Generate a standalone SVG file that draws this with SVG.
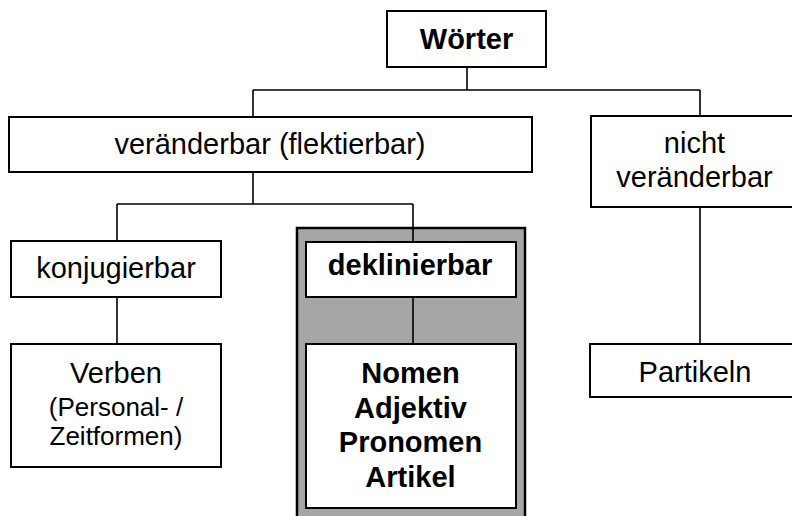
<svg xmlns="http://www.w3.org/2000/svg" width="792" height="516" viewBox="0 0 792 516">
<style>
.box{fill:#fff;stroke:#000;stroke-width:2}
.ln{fill:none;stroke:#000;stroke-width:1.6}
text{font-family:"Liberation Sans",Arial,sans-serif;font-size:29px;text-anchor:middle;fill:#000}
.b{font-weight:bold}
.s{font-size:26px}
</style>
<rect x="0" y="0" width="792" height="516" fill="#fff"/>
<g id="group-deklinierbar">
<rect x="297" y="228" width="228" height="290" fill="#a6a6a6" stroke="#000" stroke-width="2.5"/>
</g>
<g id="connectors">
<path class="ln" d="M467,67 V90 M253,90 H700 M253,90 V117 M700,90 V116"/>
<path class="ln" d="M253,172 V204 M117,204 H413 M117,204 V241 M413,204 V242"/>
<path class="ln" d="M117,297 V344 M413,297 V344 M700,207 V344"/>
</g>
<g id="n-woerter">
<rect class="box" x="387" y="11" width="159" height="56"/>
<text class="b" x="466.5" y="49">Wörter</text>
</g>
<g id="n-veraenderbar">
<rect class="box" x="9" y="117" width="523" height="55"/>
<text x="270" y="154">veränderbar (flektierbar)</text>
</g>
<g id="n-nicht">
<rect class="box" x="591" y="116" width="207" height="91"/>
<text x="694.5" y="153">nicht</text>
<text x="694.5" y="187">veränderbar</text>
</g>
<g id="n-konjugierbar">
<rect class="box" x="11" y="241" width="210" height="56"/>
<text x="116" y="278">konjugierbar</text>
</g>
<g id="n-deklinierbar">
<rect class="box" x="306" y="242" width="210" height="55"/>
<text class="b" x="410" y="275">deklinierbar</text>
</g>
<g id="n-verben">
<rect class="box" x="11" y="344" width="210" height="123"/>
<text x="116" y="383">Verben</text>
<text class="s" x="116" y="416">(Personal- /</text>
<text class="s" x="116" y="445">Zeitformen)</text>
</g>
<g id="n-nomen">
<rect class="box" x="306" y="344" width="210" height="164"/>
<text class="b" x="410.5" y="383">Nomen</text>
<text class="b" x="410.5" y="418">Adjektiv</text>
<text class="b" x="410.5" y="452">Pronomen</text>
<text class="b" x="410.5" y="487">Artikel</text>
</g>
<g id="n-partikeln">
<rect class="box" x="590" y="344" width="208" height="53"/>
<text x="695" y="382">Partikeln</text>
</g>
</svg>
